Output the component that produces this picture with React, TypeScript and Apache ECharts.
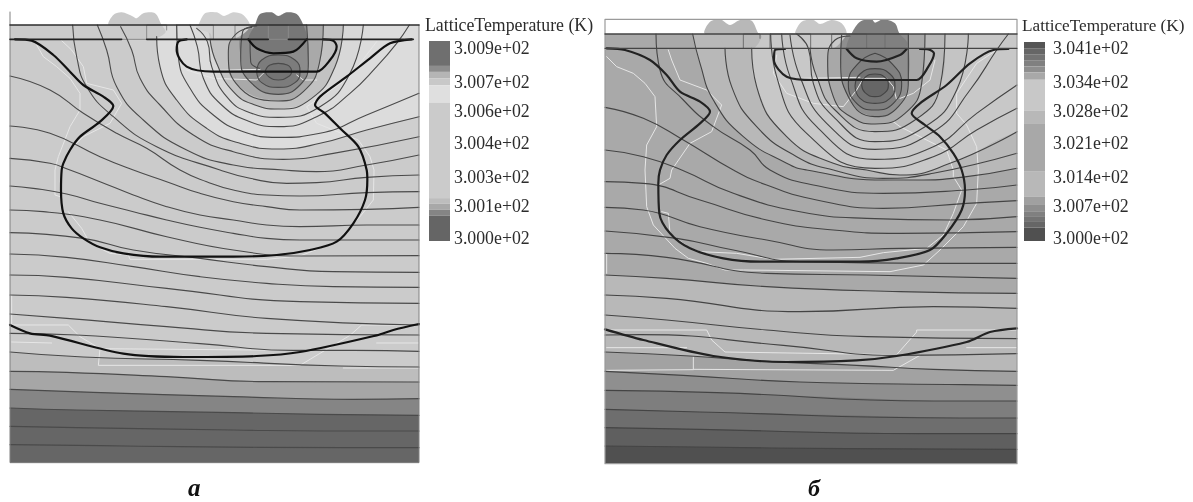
import React, { useEffect, useRef } from "react";
import * as echarts from "echarts";

type P = number[][];

// ---------- legends ----------
const legendTitle = "LatticeTemperature (K)";
const ticksA = ["3.009e+02", "3.007e+02", "3.006e+02", "3.004e+02", "3.003e+02", "3.001e+02", "3.000e+02"];
const ticksB = ["3.041e+02", "3.034e+02", "3.028e+02", "3.021e+02", "3.014e+02", "3.007e+02", "3.000e+02"];
const tickRows = [48, 82, 111, 143, 177, 206, 238];
const barSpansA = [75, 18, 20, 20, 53, 287, 17, 18, 18, 76];
const barColorsA = ["#6f6f6f", "#8d8d8d", "#b5b5b5", "#c8c8c8", "#dfdfdf", "#cbcbcb", "#bdbdbd", "#a8a8a8", "#858585", "#656565"];
const barSpansB = [20, 18, 18, 17, 18, 22, 93, 37, 145, 75, 22, 21, 17, 15, 17, 40];
const barColorsB = ["#555555", "#666666", "#737373", "#808080", "#8e8e8e", "#a8a8a8", "#c8c8c8", "#b8b8b8", "#a8a8a8", "#b8b8b8", "#a0a0a0", "#8e8e8e", "#808080", "#737373", "#666666", "#505050"];

// ---------- panel a: contours ----------
const aRing1: P = [[795, 215], [810, 195], [835, 190], [862, 195], [875, 215], [862, 232], [835, 240], [808, 232], [795, 215]];
const aRing2: P = [[770, 215], [785, 180], [835, 165], [885, 180], [900, 215], [885, 248], [835, 262], [785, 248], [770, 215]];
const aArc750: P = [[750, 118], [752, 185], [778, 205]];
const aArc725: P = [[770, 78], [728, 95], [722, 170], [750, 245], [835, 283], [900, 255], [925, 190], [920, 75]];
const aArc690: P = [[755, 82], [705, 105], [685, 160], [708, 250], [835, 303], [910, 275], [958, 190], [970, 75]];
const aArc640: P = [[630, 118], [650, 190], [700, 275], [765, 315], [835, 327], [935, 295], [1005, 200], [1030, 75]];
const aArc590: P = [[590, 85], [622, 125], [635, 200], [680, 290], [750, 338], [835, 352], [960, 320], [1050, 220], [1090, 75]];
const aArc570: P = [[570, 75], [592, 140], [610, 235], [665, 315], [750, 365], [835, 380], [950, 350], [1050, 280], [1130, 200], [1190, 130], [1228, 75]];
const aArc530: P = [[530, 75], [535, 170], [570, 265], [640, 345], [730, 395], [835, 412], [960, 400], [1100, 345], [1257, 280]];
const aArc470: P = [[470, 110], [480, 200], [530, 300], [620, 385], [720, 430], [835, 447], [960, 430], [1100, 390], [1257, 350]];
const aArc385: P = [[362, 80], [395, 150], [420, 235], [480, 315], [580, 405], [700, 455], [850, 478], [1000, 460], [1257, 410]];
const aArc292: P = [[292, 75], [320, 150], [350, 260], [430, 360], [560, 450], [700, 495], [850, 510], [950, 515], [1100, 495], [1257, 465]];
const aArc218: P = [[218, 75], [230, 170], [260, 260], [340, 350], [470, 440], [660, 510], [750, 535], [860, 550], [950, 548], [1100, 532], [1257, 525]];
const aFlat: P[] = [
  [[30, 228], [150, 270], [250, 340], [350, 400], [440, 445], [540, 510], [620, 545], [700, 570], [800, 585], [900, 588], [1100, 578], [1257, 575]],
  [[30, 378], [150, 400], [300, 470], [400, 510], [500, 545], [600, 580], [700, 605], [800, 620], [900, 630], [1100, 628], [1257, 622]],
  [[30, 475], [150, 490], [210, 510], [300, 545], [400, 585], [500, 620], [600, 645], [700, 660], [800, 675], [900, 680], [1100, 675], [1257, 675]],
  [[30, 558], [100, 565], [200, 582], [300, 610], [400, 635], [500, 660], [600, 682], [700, 700], [800, 715], [900, 720], [1100, 720], [1257, 720]],
  [[30, 630], [130, 635], [300, 660], [500, 710], [700, 750], [900, 768], [1257, 767]],
  [[30, 698], [250, 715], [400, 750], [600, 775], [800, 800], [1000, 815], [1257, 817]],
  [[30, 762], [200, 772], [400, 800], [600, 830], [800, 850], [1000, 860], [1257, 862]],
  [[30, 825], [200, 832], [500, 865], [900, 905], [1257, 910]],
  [[30, 885], [200, 892], [500, 920], [800, 955], [1257, 975]],
  [[30, 942], [200, 955], [500, 980], [800, 1000], [1257, 1005]],
  [[30, 1000], [230, 1005], [600, 1031], [880, 1051], [1060, 1051], [1257, 1054]],
];
const aLow1: P = [[30, 1056], [250, 1071], [600, 1081], [1020, 1098], [1257, 1101]];
const aLow2: P = [[30, 1114], [200, 1117], [500, 1130], [800, 1145], [1257, 1146]];
const aLow3: P = [[30, 1168], [280, 1177], [700, 1190], [1060, 1198], [1257, 1196]];
const aLow4: P = [[30, 1224], [230, 1230], [700, 1238], [960, 1243], [1257, 1246]];
const aLow5: P = [[30, 1279], [230, 1283], [700, 1290], [970, 1293], [1257, 1293]];
const aLow6: P = [[30, 1334], [300, 1337], [540, 1340], [1030, 1343], [1257, 1343]];

// panel a: junction curves
const aJunction: P = [[45, 118], [95, 122], [160, 165], [210, 215], [250, 255], [310, 290], [340, 318], [300, 365], [240, 410], [210, 450], [190, 490], [185, 510], [183, 570], [190, 640], [215, 685], [250, 715], [300, 742], [370, 760], [480, 770], [700, 770], [830, 765], [930, 750], [1010, 725], [1060, 670], [1095, 600], [1102, 540], [1100, 510], [1075, 440], [1020, 385], [975, 340], [945, 315], [960, 290], [1040, 230], [1110, 175], [1170, 130], [1235, 118]];
const aBottom: P = [[30, 975], [90, 1000], [150, 1007], [370, 1061], [550, 1071], [770, 1068], [900, 1056], [1130, 1006], [1180, 990], [1257, 972]];
const aWell: P = [[560, 118], [535, 125], [530, 150], [560, 200], [640, 215], [780, 215], [950, 215], [990, 180], [1010, 140], [1000, 122], [970, 118]];
const aCap: P = [[745, 118], [770, 145], [820, 160], [880, 155], [920, 118]];

// panel a: light traces
const aTraces: P[] = [
  [[110, 135], [130, 170], [170, 200], [210, 235], [240, 280], [240, 330], [210, 380], [175, 470], [165, 510], [165, 585], [180, 590]],
  [[185, 122], [215, 150], [250, 200], [260, 250], [340, 270], [365, 310], [330, 370], [250, 410], [210, 450]],
  [[1130, 125], [1050, 230], [950, 300], [920, 320], [950, 370], [1075, 420], [1110, 470], [1122, 510], [1120, 600], [1080, 650], [1010, 725], [900, 768], [800, 778], [390, 778], [385, 765], [330, 760], [270, 730], [245, 685], [205, 635]],
  [[35, 885], [35, 975], [205, 975], [240, 1010], [300, 1046], [295, 1096], [900, 1096], [1050, 1006], [1085, 975], [1257, 975]],
  [[35, 1026], [155, 1029]],
  [[1130, 1029], [1257, 1029]],
  [[1030, 1104], [1257, 1104]],
  [[295, 1046], [900, 1051]],
  [[560, 210], [640, 235], [770, 240], [790, 220]],
  [[890, 225], [910, 240], [950, 240]],
  [[600, 212], [780, 208]],
];

// panel a: contacts
const aBlob1: P = [[325, 75], [340, 45], [365, 37], [400, 50], [410, 55], [430, 40], [465, 40], [485, 75], [497, 95], [480, 110], [440, 118], [385, 118], [365, 100], [360, 85]];
const aBlob2: P = [[595, 75], [615, 40], [650, 37], [672, 48], [700, 37], [730, 45], [750, 80], [705, 115], [640, 118], [630, 100], [590, 85]];
const aBlob3: P = [[765, 75], [780, 42], [815, 37], [835, 48], [860, 37], [890, 42], [910, 75], [920, 118], [880, 155], [820, 160], [770, 145], [745, 118]];
const aPads: P[] = [
  [[440, 118], [440, 75], [500, 75], [500, 90]],
  [[530, 118], [530, 75], [640, 75], [640, 118]],
  [[705, 118], [705, 75], [805, 75], [805, 118]],
  [[865, 118], [865, 75], [920, 75]],
  [[365, 118], [440, 118]],
  [[805, 118], [865, 118]],
];
const aTop: P = [[30, 75], [1257, 75]];
const aSurfaceL: P = [[30, 118], [365, 118]];
const aSurfaceM: P = [[440, 118], [805, 118]];
const aSurfaceR: P = [[865, 118], [1240, 118]];
const aFrame: P = [[30, 36], [30, 1388], [1257, 1388], [1257, 75]];

// ---------- panel b: contours ----------
const bRing1: P = [[785, 255], [795, 232], [825, 222], [855, 232], [865, 255], [855, 278], [825, 290], [795, 278], [785, 255]];
const bRing2: P = [[765, 258], [780, 222], [825, 206], [870, 222], [885, 258], [870, 295], [825, 310], [780, 295], [765, 258]];
const bPear: P = [[825, 160], [775, 190], [745, 250], [770, 310], [825, 330], [880, 310], [905, 250], [875, 190], [825, 160]];
const bArc725: P = [[725, 105], [722, 180], [745, 290], [825, 350], [895, 320], [925, 240], [925, 102]];
const bArc690: P = [[750, 108], [705, 120], [683, 180], [700, 290], [760, 355], [825, 372], [915, 340], [965, 250], [975, 102]];
const bArc640: P = [[630, 145], [650, 230], [705, 330], [825, 395], [945, 360], [1020, 260], [1035, 102]];
const bArc590: P = [[590, 102], [625, 145], [640, 250], [700, 350], [825, 425], [975, 380], [1070, 270], [1105, 102]];
const bArc570: P = [[570, 105], [600, 230], [680, 370], [825, 448], [1000, 395], [1110, 270], [1190, 150], [1225, 102]];
const bArc545: P = [[545, 102], [570, 230], [650, 380], [825, 478], [1000, 440], [1130, 340], [1251, 255]];
const bArc512: P = [[512, 102], [530, 230], [620, 400], [825, 505], [1000, 470], [1130, 390], [1251, 325]];
const bArc455: P = [[455, 145], [470, 260], [560, 410], [700, 490], [800, 510], [900, 525], [1050, 490], [1251, 395]];
const bArc375: P = [[375, 145], [395, 260], [470, 380], [590, 470], [700, 510], [850, 535], [1000, 520], [1251, 460]];
const bArc278: P = [[278, 102], [300, 190], [340, 300], [430, 410], [560, 490], [620, 510], [850, 540], [950, 540], [1100, 530], [1251, 505]];
const bArc168: P = [[168, 102], [180, 210], [250, 300], [340, 380], [450, 450], [510, 510], [640, 555], [850, 580], [1100, 570], [1251, 555]];
const bFlat: P[] = [
  [[15, 322], [130, 355], [250, 420], [400, 510], [500, 555], [650, 600], [850, 625], [1100, 610], [1251, 602]],
  [[15, 450], [130, 470], [245, 510], [400, 580], [600, 635], [800, 655], [1050, 660], [1251, 650]],
  [[15, 545], [130, 550], [300, 600], [500, 660], [700, 690], [900, 700], [1251, 695]],
  [[15, 622], [130, 630], [300, 680], [500, 720], [700, 750], [900, 745], [1251, 742]],
  [[15, 693], [230, 715], [400, 750], [600, 785], [1000, 790], [1251, 790]],
  [[15, 760], [200, 772], [500, 820], [800, 825], [1251, 835]],
  [[15, 825], [200, 835], [500, 860], [900, 875], [1251, 880]],
  [[15, 885], [200, 895], [600, 935], [1000, 920], [1251, 925]],
  [[15, 945], [200, 960], [500, 990], [800, 1010], [1251, 1016]],
  [[15, 1005], [120, 1004], [550, 1036], [880, 1066], [1251, 1061]],
];
const bLow1: P = [[15, 1056], [270, 1068], [500, 1084], [770, 1096], [1000, 1108], [1251, 1114]];
const bLow2: P = [[15, 1114], [250, 1126], [600, 1146], [1090, 1154], [1251, 1156]];
const bLow3: P = [[15, 1171], [350, 1178], [1000, 1203], [1251, 1203]];
const bLow4: P = [[15, 1228], [300, 1236], [1080, 1254], [1251, 1254]];
const bLow5: P = [[15, 1283], [300, 1288], [960, 1301], [1251, 1301]];
const bLow6: P = [[15, 1338], [290, 1341], [740, 1346], [1251, 1348]];

// panel b: junction curves
const bJunction: P = [[20, 145], [75, 150], [150, 180], [200, 225], [240, 275], [300, 305], [330, 335], [300, 370], [240, 420], [200, 465], [180, 510], [175, 550], [178, 640], [210, 700], [270, 745], [370, 775], [480, 785], [780, 785], [890, 775], [990, 750], [1040, 700], [1085, 630], [1095, 570], [1085, 510], [1060, 460], [1020, 410], [975, 375], [935, 340], [960, 310], [1040, 255], [1110, 190], [1180, 150], [1225, 147]];
const bBottom: P = [[15, 988], [130, 1020], [340, 1068], [560, 1086], [770, 1081], [890, 1068], [1100, 1026], [1170, 996], [1251, 985]];
const bWell: P = [[555, 147], [525, 150], [522, 180], [560, 230], [640, 240], [950, 240], [985, 200], [1002, 160], [985, 148], [960, 147]];
const bCap: P = [[740, 147], [770, 175], [830, 185], [900, 165], [920, 147]];

// panel b: light traces
const bTraces: P[] = [
  [[20, 170], [50, 200], [100, 220], [135, 250], [165, 290], [170, 380], [140, 435], [135, 510], [140, 620], [160, 675], [225, 745], [265, 775], [320, 790], [375, 810], [430, 810], [870, 815], [970, 795], [1020, 750], [1090, 680], [1130, 610], [1135, 510], [1130, 440], [1100, 375], [1070, 340], [1070, 280], [1130, 190], [1190, 150]],
  [[205, 150], [215, 180], [240, 240], [320, 270], [365, 315], [335, 395], [270, 430], [215, 510], [210, 535], [175, 555]],
  [[185, 635], [205, 640], [210, 700], [270, 745], [300, 755], [410, 760], [520, 778], [780, 772], [850, 758], [980, 745], [1030, 705], [1060, 640], [1085, 570], [1060, 530], [1060, 510], [1040, 450], [900, 380], [880, 365]],
  [[530, 165], [520, 220], [560, 280], [640, 310], [730, 320], [770, 270], [790, 235], [860, 235], [880, 260], [890, 300]],
  [[600, 235], [780, 232]],
  [[1005, 180], [990, 240], [940, 280], [900, 295]],
  [[20, 760], [20, 820]],
  [[20, 990], [320, 990], [335, 1020], [375, 1056], [890, 1064], [950, 996], [950, 990], [1251, 990]],
  [[280, 1071], [280, 1108], [880, 1111], [960, 1066]],
  [[20, 1043], [260, 1043]],
  [[1100, 1043], [1251, 1043]],
  [[20, 1111], [280, 1109]],
];

// panel b: contacts
const bBlob1: P = [[313, 100], [330, 65], [360, 58], [390, 75], [420, 60], [455, 62], [475, 100], [485, 110], [460, 145], [380, 145], [355, 110]];
const bBlob2: P = [[585, 100], [605, 65], [640, 60], [660, 72], [695, 60], [725, 70], [740, 100], [720, 130], [700, 145], [640, 145], [600, 110]];
const bBlob3: P = [[755, 100], [780, 65], [815, 58], [825, 68], [850, 58], [885, 70], [898, 100], [922, 130], [900, 165], [830, 185], [770, 175], [740, 145]];
const bPads: P[] = [
  [[430, 145], [430, 102], [480, 102], [480, 115]],
  [[510, 145], [510, 102], [632, 102], [632, 145]],
  [[695, 145], [695, 102], [800, 102], [800, 145]],
  [[855, 145], [855, 102], [925, 102]],
];
const bTop: P = [[15, 102], [1251, 102]];
const bSurface: P = [[15, 145], [1251, 145]];
const bFrame: P = [[15, 1391], [15, 58], [1251, 58], [1251, 1391], [15, 1391]];

const PX = 3;
const polySeries = (pts: P, idx: number, fill: string, smooth = 0.5) => ({
  type: "custom",
  coordinateSystem: "cartesian2d",
  xAxisIndex: idx,
  yAxisIndex: idx,
  clip: true,
  silent: true,
  data: pts,
  encode: { x: 0, y: 1 },
  renderItem: (params: any, api: any) =>
    params.dataIndex === 0
      ? {
          type: "polygon",
          shape: { points: pts.map((p) => api.coord(p)), smooth },
          style: { fill, stroke: null },
          silent: true,
        }
      : null,
});

const lineSeries = (pts: P, idx: number, color: string, width: number, clip = true, smooth: number | boolean = 0.5) => ({
  type: "line",
  xAxisIndex: idx,
  yAxisIndex: idx,
  data: pts,
  showSymbol: false,
  symbol: "none",
  silent: true,
  clip,
  smooth,
  lineStyle: { color, width, cap: "round", join: "round" },
});

const capArc = (arc: P, top: number): P => {
  const a = arc[0];
  const b = arc[arc.length - 1];
  return [...arc, [b[0], top], [a[0], top]];
};
const capEdge = (arc: P, edge: number, top: number): P => {
  const a = arc[0];
  const b = arc[arc.length - 1];
  return [...arc, [edge, b[1]], [edge, top], [a[0], top]];
};
const below = (line: P, x0: number, x1: number, bottom: number): P => [...line, [x1, bottom], [x0, bottom]];

const axisSet = (min: number, max: number, inverse = false) => ({ type: "value", min, max, show: false, inverse });

export default function App() {
  const ref = useRef<HTMLDivElement>(null);
  useEffect(() => {
    const chart = echarts.init(ref.current!, undefined, { renderer: "svg" });
    const A = 0;
    const B = 1;
    const contourA = "#4a4a4a";
    const contourB = "#444444";
    const trace = "#e6e6e6";
    const series: any[] = [
      // panel a fills
      polySeries(below([[30, 36], [1257, 36]], 30, 1257, 1400), A, "#cbcbcb", 0),
      polySeries(below(aLow1, 30, 1257, 1400), A, "#bdbdbd", 0),
      polySeries(below(aLow2, 30, 1257, 1400), A, "#a6a6a6", 0),
      polySeries(below(aLow3, 30, 1257, 1400), A, "#858585", 0),
      polySeries(below(aLow4, 30, 1257, 1400), A, "#666666", 0),
      polySeries(capEdge(aArc385, 1300, 20), A, "#cfcfcf"),
      polySeries(capEdge(aArc470, 1300, 20), A, "#dcdcdc"),
      polySeries(capArc(aArc590, 20), A, "#d8d8d8"),
      polySeries(capArc(aArc640, 20), A, "#c2c2c2"),
      polySeries(capArc(aArc690, 20), A, "#a9a9a9"),
      polySeries(capArc(aArc725, 20), A, "#8c8c8c"),
      polySeries(aRing2, A, "#7c7c7c"),
      polySeries(aRing1, A, "#747474"),
      polySeries([[30, 36], [1257, 36], [1257, 75], [30, 75]], A, "#ffffff", 0),
      polySeries(aBlob1, A, "#c9c9c9", 0.3),
      polySeries(aBlob2, A, "#d0d0d0", 0.3),
      polySeries(aBlob3, A, "#777777", 0.3),

      // panel b fills
      polySeries(below([[15, 57], [1251, 57]], 15, 1251, 1400), B, "#a9a9a9", 0),
      polySeries(below(bFlat[6], 15, 1251, 1400), B, "#b8b8b8", 0),
      polySeries(below(bLow1, 15, 1251, 1400), B, "#a2a2a2", 0),
      polySeries(below(bLow2, 15, 1251, 1400), B, "#8f8f8f", 0),
      polySeries(below(bLow3, 15, 1251, 1400), B, "#7e7e7e", 0),
      polySeries(below(bLow4, 15, 1251, 1400), B, "#6e6e6e", 0),
      polySeries(below(bLow5, 15, 1251, 1400), B, "#5f5f5f", 0),
      polySeries(below(bLow6, 15, 1251, 1400), B, "#505050", 0),
      polySeries(capEdge(bArc278, 1300, 20), B, "#b8b8b8"),
      polySeries(capEdge(bArc455, 1300, 20), B, "#c8c8c8"),
      polySeries(capArc(bArc590, 20), B, "#c4c4c4"),
      polySeries(capArc(bArc640, 20), B, "#b8b8b8"),
      polySeries(capArc(bArc690, 20), B, "#a8a8a8"),
      polySeries(capArc(bArc725, 20), B, "#8e8e8e"),
      polySeries(bPear, B, "#808080"),
      polySeries(bRing2, B, "#737373"),
      polySeries(bRing1, B, "#666666"),
      polySeries([[15, 57], [1251, 57], [1251, 102], [15, 102]], B, "#ffffff", 0),
      polySeries(bBlob1, B, "#b8b8b8", 0.3),
      polySeries(bBlob2, B, "#c8c8c8", 0.3),
      polySeries(bBlob3, B, "#808080", 0.3),
    ];

    // traces, pads, contours, junctions
    aTraces.forEach((t) => series.push(lineSeries(t, A, trace, 1, true, false)));
    bTraces.forEach((t) => series.push(lineSeries(t, B, trace, 1, true, false)));
    aPads.forEach((t) => series.push(lineSeries(t, A, "#8a8a8a", 1, true, false)));
    bPads.forEach((t) => series.push(lineSeries(t, B, "#6e6e6e", 1, true, false)));

    [aRing1, aRing2, aArc750, aArc725, aArc690, aArc640, aArc590, aArc570, aArc530, aArc470, aArc385, aArc292, aArc218, ...aFlat, aLow1, aLow2, aLow3, aLow4, aLow5, aLow6].forEach((c) =>
      series.push(lineSeries(c, A, contourA, 1.1))
    );
    [bRing1, bRing2, bPear, bArc725, bArc690, bArc640, bArc590, bArc570, bArc545, bArc512, bArc455, bArc375, bArc278, bArc168, ...bFlat, bLow1, bLow2, bLow3, bLow4, bLow5, bLow6].forEach((c) =>
      series.push(lineSeries(c, B, contourB, 1.1))
    );

    [aJunction, aBottom, aWell, aCap].forEach((c) => series.push(lineSeries(c, A, "#111111", 2.2, true, 0.3)));
    [bJunction, bBottom, bWell, bCap].forEach((c) => series.push(lineSeries(c, B, "#222222", 2.2, true, 0.3)));

    series.push(lineSeries(aFrame, A, "#808080", 1, false, false));
    series.push(lineSeries(aTop, A, "#2e2e2e", 1.6, false, false));
    [aSurfaceL, aSurfaceM, aSurfaceR].forEach((c) => series.push(lineSeries(c, A, "#222222", 1.6, false, false)));
    series.push(lineSeries(bFrame, B, "#9a9a9a", 1.2, false, false));
    series.push(lineSeries(bTop, B, "#444444", 1.4, false, false));
    series.push(lineSeries(bSurface, B, "#444444", 1.2, false, false));

    // colour bars
    barSpansA.forEach((v, i) =>
      series.push({ type: "bar", xAxisIndex: 2, yAxisIndex: 2, stack: "a", barWidth: "100%", data: [v], itemStyle: { color: barColorsA[i] }, silent: true })
    );
    barSpansB.forEach((v, i) =>
      series.push({ type: "bar", xAxisIndex: 3, yAxisIndex: 3, stack: "b", barWidth: "100%", data: [v], itemStyle: { color: barColorsB[i] }, silent: true })
    );

    const serif = "'Liberation Serif', serif";
    const text = (x: number, y: number, t: string, size = 17.8, extra: any = {}) => ({
      type: "text",
      x,
      y,
      silent: true,
      style: { text: t, fontFamily: serif, fontSize: size, fill: "#2c2c2c", textVerticalAlign: "middle", ...extra },
    });
    const graphic = [
      text(425, 25, legendTitle),
      text(1022, 25, legendTitle, 17.2),
      ...ticksA.map((t, i) => text(454, tickRows[i], t)),
      ...ticksB.map((t, i) => text(1053, tickRows[i], t)),
      text(188, 487, "a", 25, { fontWeight: "bold", fontStyle: "italic", fill: "#111111" }),
      text(808, 488, "б", 24, { fontWeight: "bold", fontStyle: "italic", fill: "#111111" }),
    ];

    chart.setOption({
      animation: false,
      backgroundColor: "#ffffff",
      grid: [
        { left: 10, top: 12, width: 1227 / PX, height: 1353 / PX },
        { left: 605, top: 19, width: 1236 / PX, height: 1334 / PX },
        { left: 429, top: 41, width: 21, height: 200 },
        { left: 1024, top: 42, width: 21, height: 199 },
      ],
      xAxis: [
        { ...axisSet(30, 1257), gridIndex: 0 },
        { ...axisSet(15, 1251), gridIndex: 1 },
        { type: "category", data: ["T"], show: false, gridIndex: 2 },
        { type: "category", data: ["T"], show: false, gridIndex: 3 },
      ],
      yAxis: [
        { ...axisSet(36, 1389, true), gridIndex: 0 },
        { ...axisSet(57, 1391, true), gridIndex: 1 },
        { ...axisSet(0, barSpansA.reduce((s, v) => s + v, 0), true), gridIndex: 2 },
        { ...axisSet(0, barSpansB.reduce((s, v) => s + v, 0), true), gridIndex: 3 },
      ],
      series,
      graphic,
    });
    return () => chart.dispose();
  }, []);
  return (
    <div
      ref={ref}
      style={{ position: "fixed", left: 0, top: 0, width: 1193, height: 502, background: "#fff", filter: "blur(0.45px)" }}
    />
  );
}
